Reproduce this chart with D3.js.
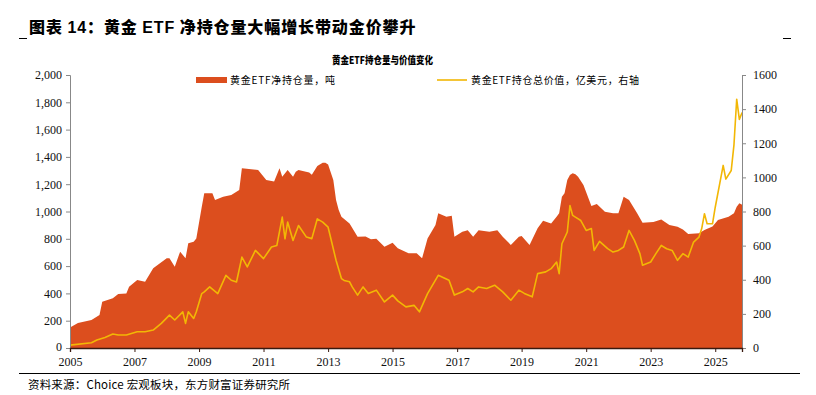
<!DOCTYPE html>
<html><head><meta charset="utf-8">
<script src="https://cdn.jsdelivr.net/npm/d3@7"></script>
<style>
body{margin:0;background:#fff;}
svg{display:block;}
</style></head>
<body><svg id="c" width="816" height="395"></svg>
<script>
// ---- data ----
const holdDates = ["2005-01","2005-04","2005-09","2005-12","2006-01","2006-05","2006-07","2006-10","2006-11","2007-02","2007-05","2007-08","2008-01","2008-02","2008-04","2008-06","2008-08","2008-09","2008-11","2008-12","2009-02","2009-03","2009-06","2009-07","2009-10","2010-01","2010-04","2010-05","2010-11","2011-02","2011-05","2011-07","2011-08","2011-10","2011-12","2012-01","2012-02","2012-06","2012-07","2012-09","2012-11","2012-12","2013-01","2013-03","2013-04","2013-05","2013-06","2013-09","2013-12","2014-03","2014-05","2014-07","2014-10","2015-01","2015-03","2015-07","2015-10","2015-12","2016-02","2016-05","2016-06","2016-09","2016-11","2016-12","2017-03","2017-05","2017-07","2017-09","2018-01","2018-04","2018-06","2018-09","2018-12","2019-01","2019-04","2019-07","2019-09","2019-12","2020-02","2020-03","2020-04","2020-05","2020-06","2020-07","2020-08","2020-09","2020-10","2020-12","2021-03","2021-05","2021-08","2021-11","2022-01","2022-03","2022-05","2022-08","2022-10","2023-02","2023-05","2023-08","2023-11","2024-01","2024-03","2024-07","2024-09","2024-12","2025-02","2025-06","2025-08","2025-09","2025-10","2025-11"];
const holdTonnes = [150,183,205,242,339,364,395,400,449,498,486,584,657,657,596,706,657,767,779,803,1035,1133,1133,1084,1108,1121,1157,1316,1304,1231,1219,1316,1255,1304,1255,1292,1304,1285,1270,1333,1357,1357,1345,1231,1084,1011,962,913,815,816,796,801,742,771,730,694,694,657,803,901,987,962,968,815,852,862,815,862,852,862,815,755,815,820,755,877,933,913,962,987,1108,1133,1231,1267,1280,1272,1255,1194,1040,1055,999,987,987,1108,1084,987,918,923,942,901,889,869,835,840,865,890,938,962,987,1035,1060,1050];

const valDates = ["2005-01","2005-09","2005-11","2006-02","2006-05","2006-07","2006-10","2007-02","2007-05","2007-08","2007-11","2008-02","2008-04","2008-07","2008-08","2008-09","2008-11","2008-12","2009-02","2009-03","2009-05","2009-08","2009-11","2010-01","2010-03","2010-05","2010-07","2010-10","2011-01","2011-04","2011-06","2011-08","2011-09","2011-10","2011-12","2012-02","2012-05","2012-07","2012-09","2012-11","2013-01","2013-02","2013-04","2013-06","2013-07","2013-09","2013-10","2013-12","2014-02","2014-04","2014-07","2014-10","2015-01","2015-03","2015-06","2015-09","2015-11","2016-02","2016-06","2016-10","2016-12","2017-03","2017-05","2017-07","2017-09","2017-12","2018-03","2018-06","2018-09","2018-12","2019-02","2019-05","2019-07","2019-10","2019-12","2020-02","2020-03","2020-04","2020-06","2020-07","2020-08","2020-09","2020-11","2021-01","2021-03","2021-04","2021-06","2021-09","2021-11","2022-01","2022-03","2022-05","2022-07","2022-09","2022-10","2023-01","2023-03","2023-05","2023-07","2023-09","2023-11","2024-01","2024-03","2024-05","2024-07","2024-08","2024-09","2024-10","2024-12","2025-01","2025-04","2025-05","2025-07","2025-08","2025-09","2025-10","2025-11"];
const valUSD = [17,31,47,62,82,76,76,95,95,105,144,193,164,212,144,212,173,212,319,329,358,319,426,397,387,533,475,572,524,592,601,767,640,738,630,718,650,641,757,738,708,642,514,407,396,388,358,310,358,320,339,270,310,276,241,250,212,319,426,397,310,329,349,329,358,349,368,329,280,339,320,300,436,446,465,504,436,611,680,835,777,767,747,689,700,572,625,582,562,572,592,689,631,553,485,504,553,601,582,572,514,553,533,621,650,700,787,728,728,825,1070,990,1040,1190,1458,1340,1380];

const leftTicks = [0,200,400,600,800,1000,1200,1400,1600,1800,2000];
const rightTicks = [0,200,400,600,800,1000,1200,1400,1600];
const yearTicks = [2005,2007,2009,2011,2013,2015,2017,2019,2021,2023,2025];

const chartTitle = "黄金ETF持仓量与价值变化";
const legendArea = "黄金ETF净持仓量，吨";
const legendLine = "黄金ETF持仓总价值，亿美元，右轴";
const sourceText = "资料来源：Choice 宏观板块，东方财富证券研究所";

// ---- drawing ----
const svg = d3.select("#c");
const parse = d3.timeParse("%Y-%m");
const L = 70, R = 742, T = 75, B = 348;
const x = d3.scaleTime().domain([new Date(2005,0,1), new Date(2025,9,31)]).range([L, R]);
const yL = d3.scaleLinear().domain([0,2000]).range([B, T]);
const yR = d3.scaleLinear().domain([0,1600]).range([B, T]);

const CJK = "'Noto Sans CJK SC','Noto Sans',sans-serif";
const SERIF = "'Liberation Serif','DejaVu Serif',serif";

// title
const t = svg.append("text").attr("x", 29).attr("y", 33)
  .attr("font-family", CJK).attr("font-weight", 900).attr("font-size", 16).attr("fill", "#000")
  .attr("letter-spacing", 0.9);
t.append("tspan").text("图表 ");
t.append("tspan").attr("font-family","'Liberation Sans',Arial,sans-serif").attr("font-weight",700).text("14");
t.append("tspan").text("：黄金 ");
t.append("tspan").attr("font-family","'Liberation Sans',Arial,sans-serif").attr("font-weight",700).text("ETF");
t.append("tspan").text(" 净持仓量大幅增长带动金价攀升");
svg.append("line").attr("x1",19).attr("x2",27).attr("y1",38.5).attr("y2",38.5).attr("stroke","#000");
svg.append("line").attr("x1",783).attr("x2",791).attr("y1",38.5).attr("y2",38.5).attr("stroke","#000");

// chart title
svg.append("text").attr("x", 332).attr("y", 64)
  .attr("font-family", CJK).attr("font-weight", 900).attr("font-size", 10.5).attr("fill","#000")
  .attr("textLength", 101).attr("lengthAdjust","spacingAndGlyphs")
  .text(chartTitle);

// area
const areaData = holdDates.map((d,i)=>({d:parse(d), v:holdTonnes[i]}));
svg.append("path").datum(areaData)
  .attr("d", d3.area().x(d=>x(d.d)).y0(yL(0)).y1(d=>yL(d.v)))
  .attr("fill", "#DC4E1E");

// line
const lineData = valDates.map((d,i)=>({d:parse(d), v:valUSD[i]}));
svg.append("path").datum(lineData)
  .attr("d", d3.line().x(d=>x(d.d)).y(d=>yR(d.v)))
  .attr("fill","none").attr("stroke","#F2B705").attr("stroke-width",1.6).attr("stroke-linejoin","round");

// axes
const axL = svg.append("g").attr("transform",`translate(${L},0)`)
  .call(d3.axisLeft(yL).tickValues(leftTicks).tickFormat(d3.format(",")).tickSize(4).tickPadding(4));
const axR = svg.append("g").attr("transform",`translate(${R},0)`)
  .call(d3.axisRight(yR).tickValues(rightTicks).tickFormat(d3.format("d")).tickSize(4).tickPadding(7));
const axB = svg.append("g").attr("transform",`translate(0,${B})`)
  .call(d3.axisBottom(x).tickValues(yearTicks.map(y=>new Date(y,0,1))).tickFormat(d3.timeFormat("%Y")).tickSize(4).tickPadding(5));
[axL, axR, axB].forEach(g=>{
  g.selectAll("text").attr("font-family", SERIF).attr("font-size", 12).attr("fill","#111");
  g.selectAll("line").attr("stroke","#888");
  g.select(".domain").attr("stroke","#888");
});
axL.selectAll(".tick").filter(d=>d===0).select("text").attr("dy","0.2em");
axB.select(".domain").attr("stroke","#3a1a10").attr("stroke-width",1.3);
axB.selectAll("line").attr("stroke","#3a1a10");

// legend
svg.append("rect").attr("x",196).attr("y",77).attr("width",31).attr("height",6).attr("fill","#DC4E1E");
svg.append("text").attr("x",230).attr("y",84).attr("font-family",CJK).attr("font-size",10).attr("fill","#000")
  .attr("textLength",105).attr("lengthAdjust","spacing").text(legendArea);
svg.append("line").attr("x1",437).attr("x2",467).attr("y1",80).attr("y2",80).attr("stroke","#F2B705").attr("stroke-width",1.6);
svg.append("text").attr("x",471).attr("y",84).attr("font-family",CJK).attr("font-size",10).attr("fill","#000")
  .attr("textLength",168).attr("lengthAdjust","spacing").text(legendLine);

// footer
svg.append("line").attr("x1",19).attr("x2",800).attr("y1",373.5).attr("y2",373.5).attr("stroke","#000").attr("stroke-width",1);
svg.append("text").attr("x",28).attr("y",389).attr("font-family",CJK).attr("font-size",11.5).attr("fill","#000")
  .attr("textLength",262).attr("lengthAdjust","spacing").text(sourceText);
</script></body></html>
